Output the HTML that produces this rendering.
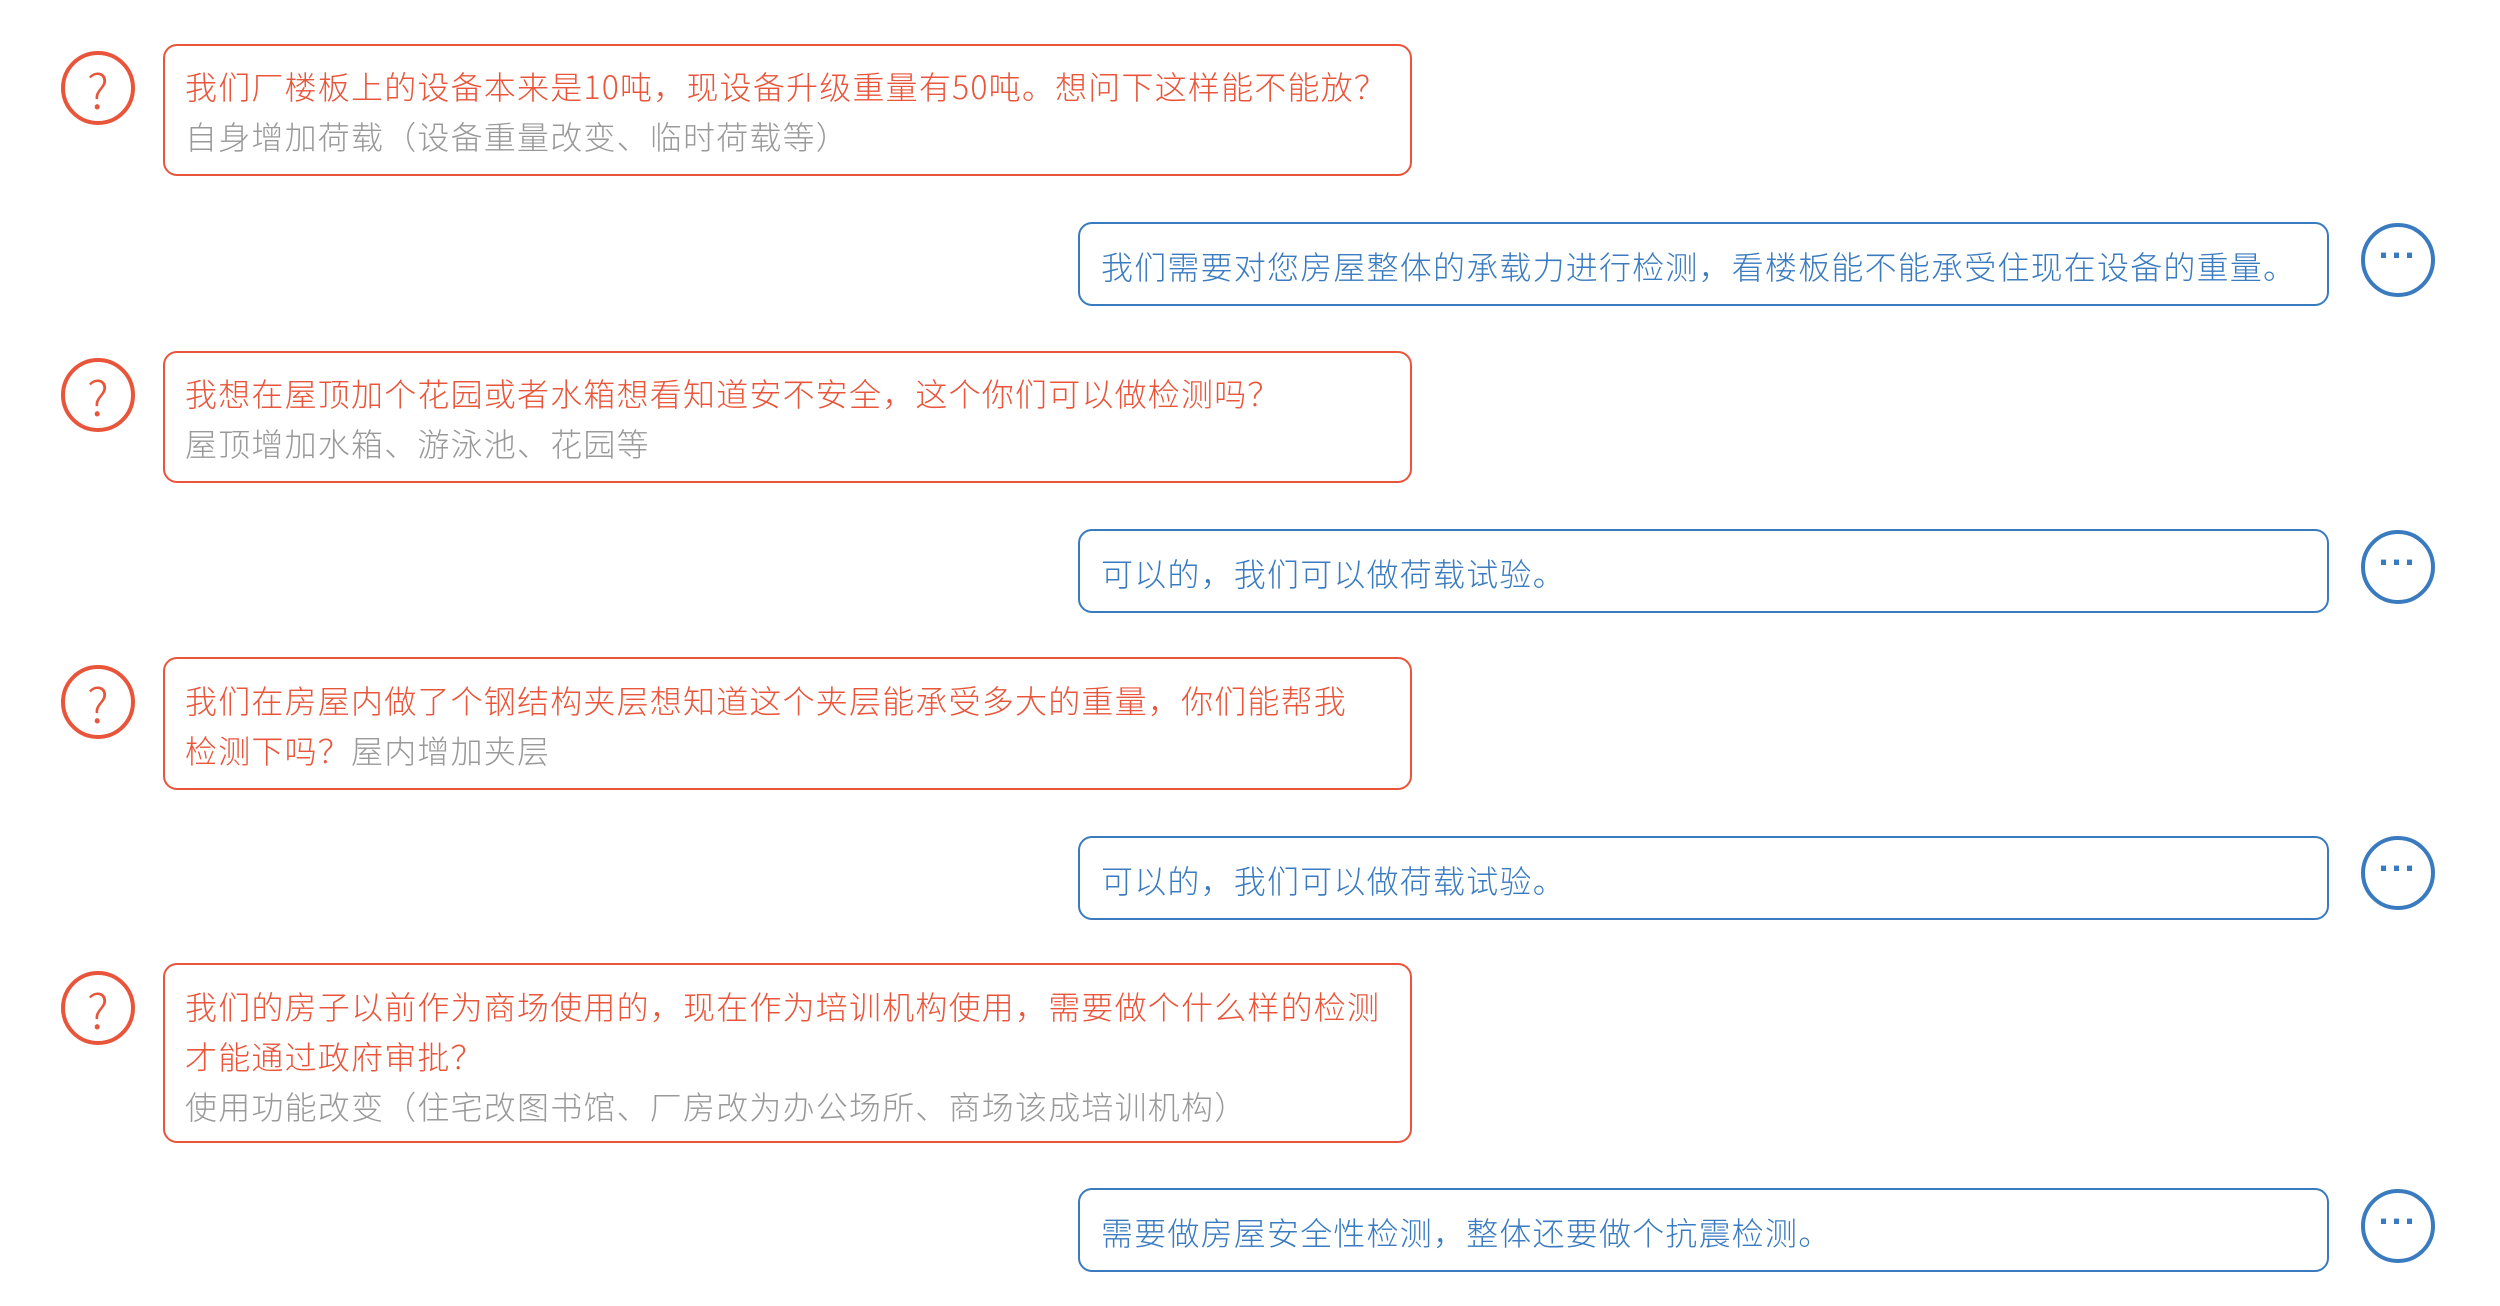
<!DOCTYPE html>
<html><head><meta charset="utf-8"><style>
html,body{margin:0;padding:0;background:#fff;}
body{width:2500px;height:1306px;position:relative;overflow:hidden;font-family:"Liberation Sans","Noto Sans CJK SC",sans-serif;}
.c{position:absolute;width:74px;height:74px;border-radius:50%;box-sizing:border-box;border:4px solid;}
.q{border-color:#e8553a;color:#e8553a;}
.a{border-color:#3a7bbf;color:#3a7bbf;}
.q span{position:absolute;left:0;right:0;top:50%;transform:translateY(-50%);text-align:center;font-size:48px;line-height:1;font-family:"Noto Sans CJK SC",sans-serif;font-weight:300;}
.a span{position:absolute;left:0;right:0;top:50%;transform:translateY(-62%);text-align:center;font-size:36px;line-height:1;font-weight:bold;letter-spacing:1px;}
.b{position:absolute;box-sizing:border-box;border:2px solid;border-radius:14px;}
.qb{left:163px;width:1249px;border-color:#e8553a;}
.ab{left:1078px;width:1251px;border-color:#3a7bbf;}
.t{position:absolute;white-space:nowrap;font-size:32px;line-height:50px;letter-spacing:1.2px;font-family:"Noto Sans CJK SC",sans-serif;font-weight:300;}
.r{color:#e8553a;} .g{color:#999;} .bl{color:#3a7bbf;}
</style></head><body>

<div class="c q" style="left:61px;top:51px"><span>?</span></div>
<div class="b qb" style="top:44px;height:132px"></div>
<div class="t r" style="left:185px;top:61px">我们厂楼板上的设备本来是10吨，现设备升级重量有50吨。想问下这样能不能放？</div>
<div class="t g" style="left:185px;top:111px">自身增加荷载（设备重量改变、临时荷载等）</div>

<div class="b ab" style="top:222px;height:84px"></div>
<div class="t bl" style="left:1101px;top:241px">我们需要对您房屋整体的承载力进行检测，看楼板能不能承受住现在设备的重量。</div>
<div class="c a" style="left:2361px;top:223px"><span>···</span></div>

<div class="c q" style="left:61px;top:358px"><span>?</span></div>
<div class="b qb" style="top:351px;height:132px"></div>
<div class="t r" style="left:185px;top:368px">我想在屋顶加个花园或者水箱想看知道安不安全，这个你们可以做检测吗？</div>
<div class="t g" style="left:185px;top:418px">屋顶增加水箱、游泳池、花园等</div>

<div class="b ab" style="top:529px;height:84px"></div>
<div class="t bl" style="left:1101px;top:548px">可以的，我们可以做荷载试验。</div>
<div class="c a" style="left:2361px;top:530px"><span>···</span></div>

<div class="c q" style="left:61px;top:665px"><span>?</span></div>
<div class="b qb" style="top:657px;height:133px"></div>
<div class="t r" style="left:185px;top:675px">我们在房屋内做了个钢结构夹层想知道这个夹层能承受多大的重量，你们能帮我</div>
<div class="t" style="left:185px;top:725px"><span class="r">检测下吗？</span><span class="g">屋内增加夹层</span></div>

<div class="b ab" style="top:836px;height:84px"></div>
<div class="t bl" style="left:1101px;top:855px">可以的，我们可以做荷载试验。</div>
<div class="c a" style="left:2361px;top:836px"><span>···</span></div>

<div class="c q" style="left:61px;top:971px"><span>?</span></div>
<div class="b qb" style="top:963px;height:180px"></div>
<div class="t r" style="left:185px;top:981px">我们的房子以前作为商场使用的，现在作为培训机构使用，需要做个什么样的检测</div>
<div class="t r" style="left:185px;top:1031px">才能通过政府审批？</div>
<div class="t g" style="left:185px;top:1081px">使用功能改变（住宅改图书馆、厂房改为办公场所、商场该成培训机构）</div>

<div class="b ab" style="top:1188px;height:84px"></div>
<div class="t bl" style="left:1101px;top:1207px">需要做房屋安全性检测，整体还要做个抗震检测。</div>
<div class="c a" style="left:2361px;top:1189px"><span>···</span></div>

</body></html>
